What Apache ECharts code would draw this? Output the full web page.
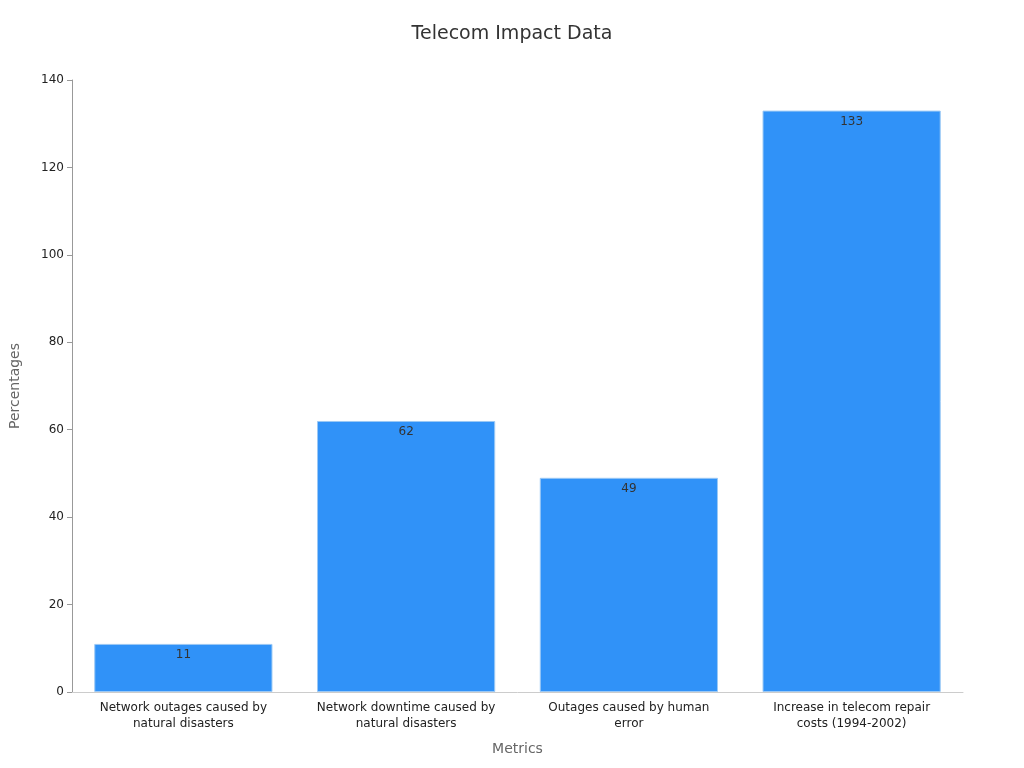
<!DOCTYPE html>
<html>
<head>
<meta charset="utf-8">
<script src="https://cdn.jsdelivr.net/npm/echarts@6/dist/echarts.min.js"></script>
<style>html,body{margin:0;padding:0;background:#fff}#main{width:1024px;height:768px}</style>
</head>
<body>
<div id="main"></div>
<script>
var categories = [
  'Network outages caused by\nnatural disasters',
  'Network downtime caused by\nnatural disasters',
  'Outages caused by human\nerror',
  'Increase in telecom repair\ncosts (1994-2002)'
];
var values = [11, 62, 49, 133];

var option = {
  textStyle: { fontFamily: 'DejaVu Sans' },
  title: {
    text: 'Telecom Impact Data',
    left: 'center',
    top: 20,
    textStyle: { fontSize: 19, fontWeight: 'normal', color: '#333', fontFamily: 'DejaVu Sans' }
  },
  grid: { left: 68, right: 61, top: 80, bottom: 76 },
  xAxis: {
    type: 'category',
    data: categories,
    name: 'Metrics',
    nameLocation: 'middle',
    nameGap: 50,
    nameTextStyle: { fontSize: 14, color: '#666' },
    axisLine: { lineStyle: { color: '#ccc' } },
    axisTick: { show: false },
    axisLabel: { color: '#222', fontSize: 12, lineHeight: 16, interval: 0 }
  },
  yAxis: {
    type: 'value',
    min: 0,
    max: 140,
    interval: 20,
    name: 'Percentages',
    nameLocation: 'middle',
    nameGap: 50,
    nameTextStyle: { fontSize: 14, color: '#666' },
    axisLine: { show: true, lineStyle: { color: '#999' } },
    axisTick: { show: true, lineStyle: { color: '#999' } },
    splitLine: { show: false },
    axisLabel: { color: '#222', fontSize: 12 }
  },
  series: [{
    type: 'bar',
    data: values,
    barWidth: '80%',
    itemStyle: { color: '#3092F8', borderColor: '#9cc9f5', borderWidth: 1 },
    label: { show: true, position: 'insideTop', color: '#333', fontSize: 12 }
  }]
};
echarts.init(document.getElementById('main')).setOption(option);
</script>
</body>
</html>
